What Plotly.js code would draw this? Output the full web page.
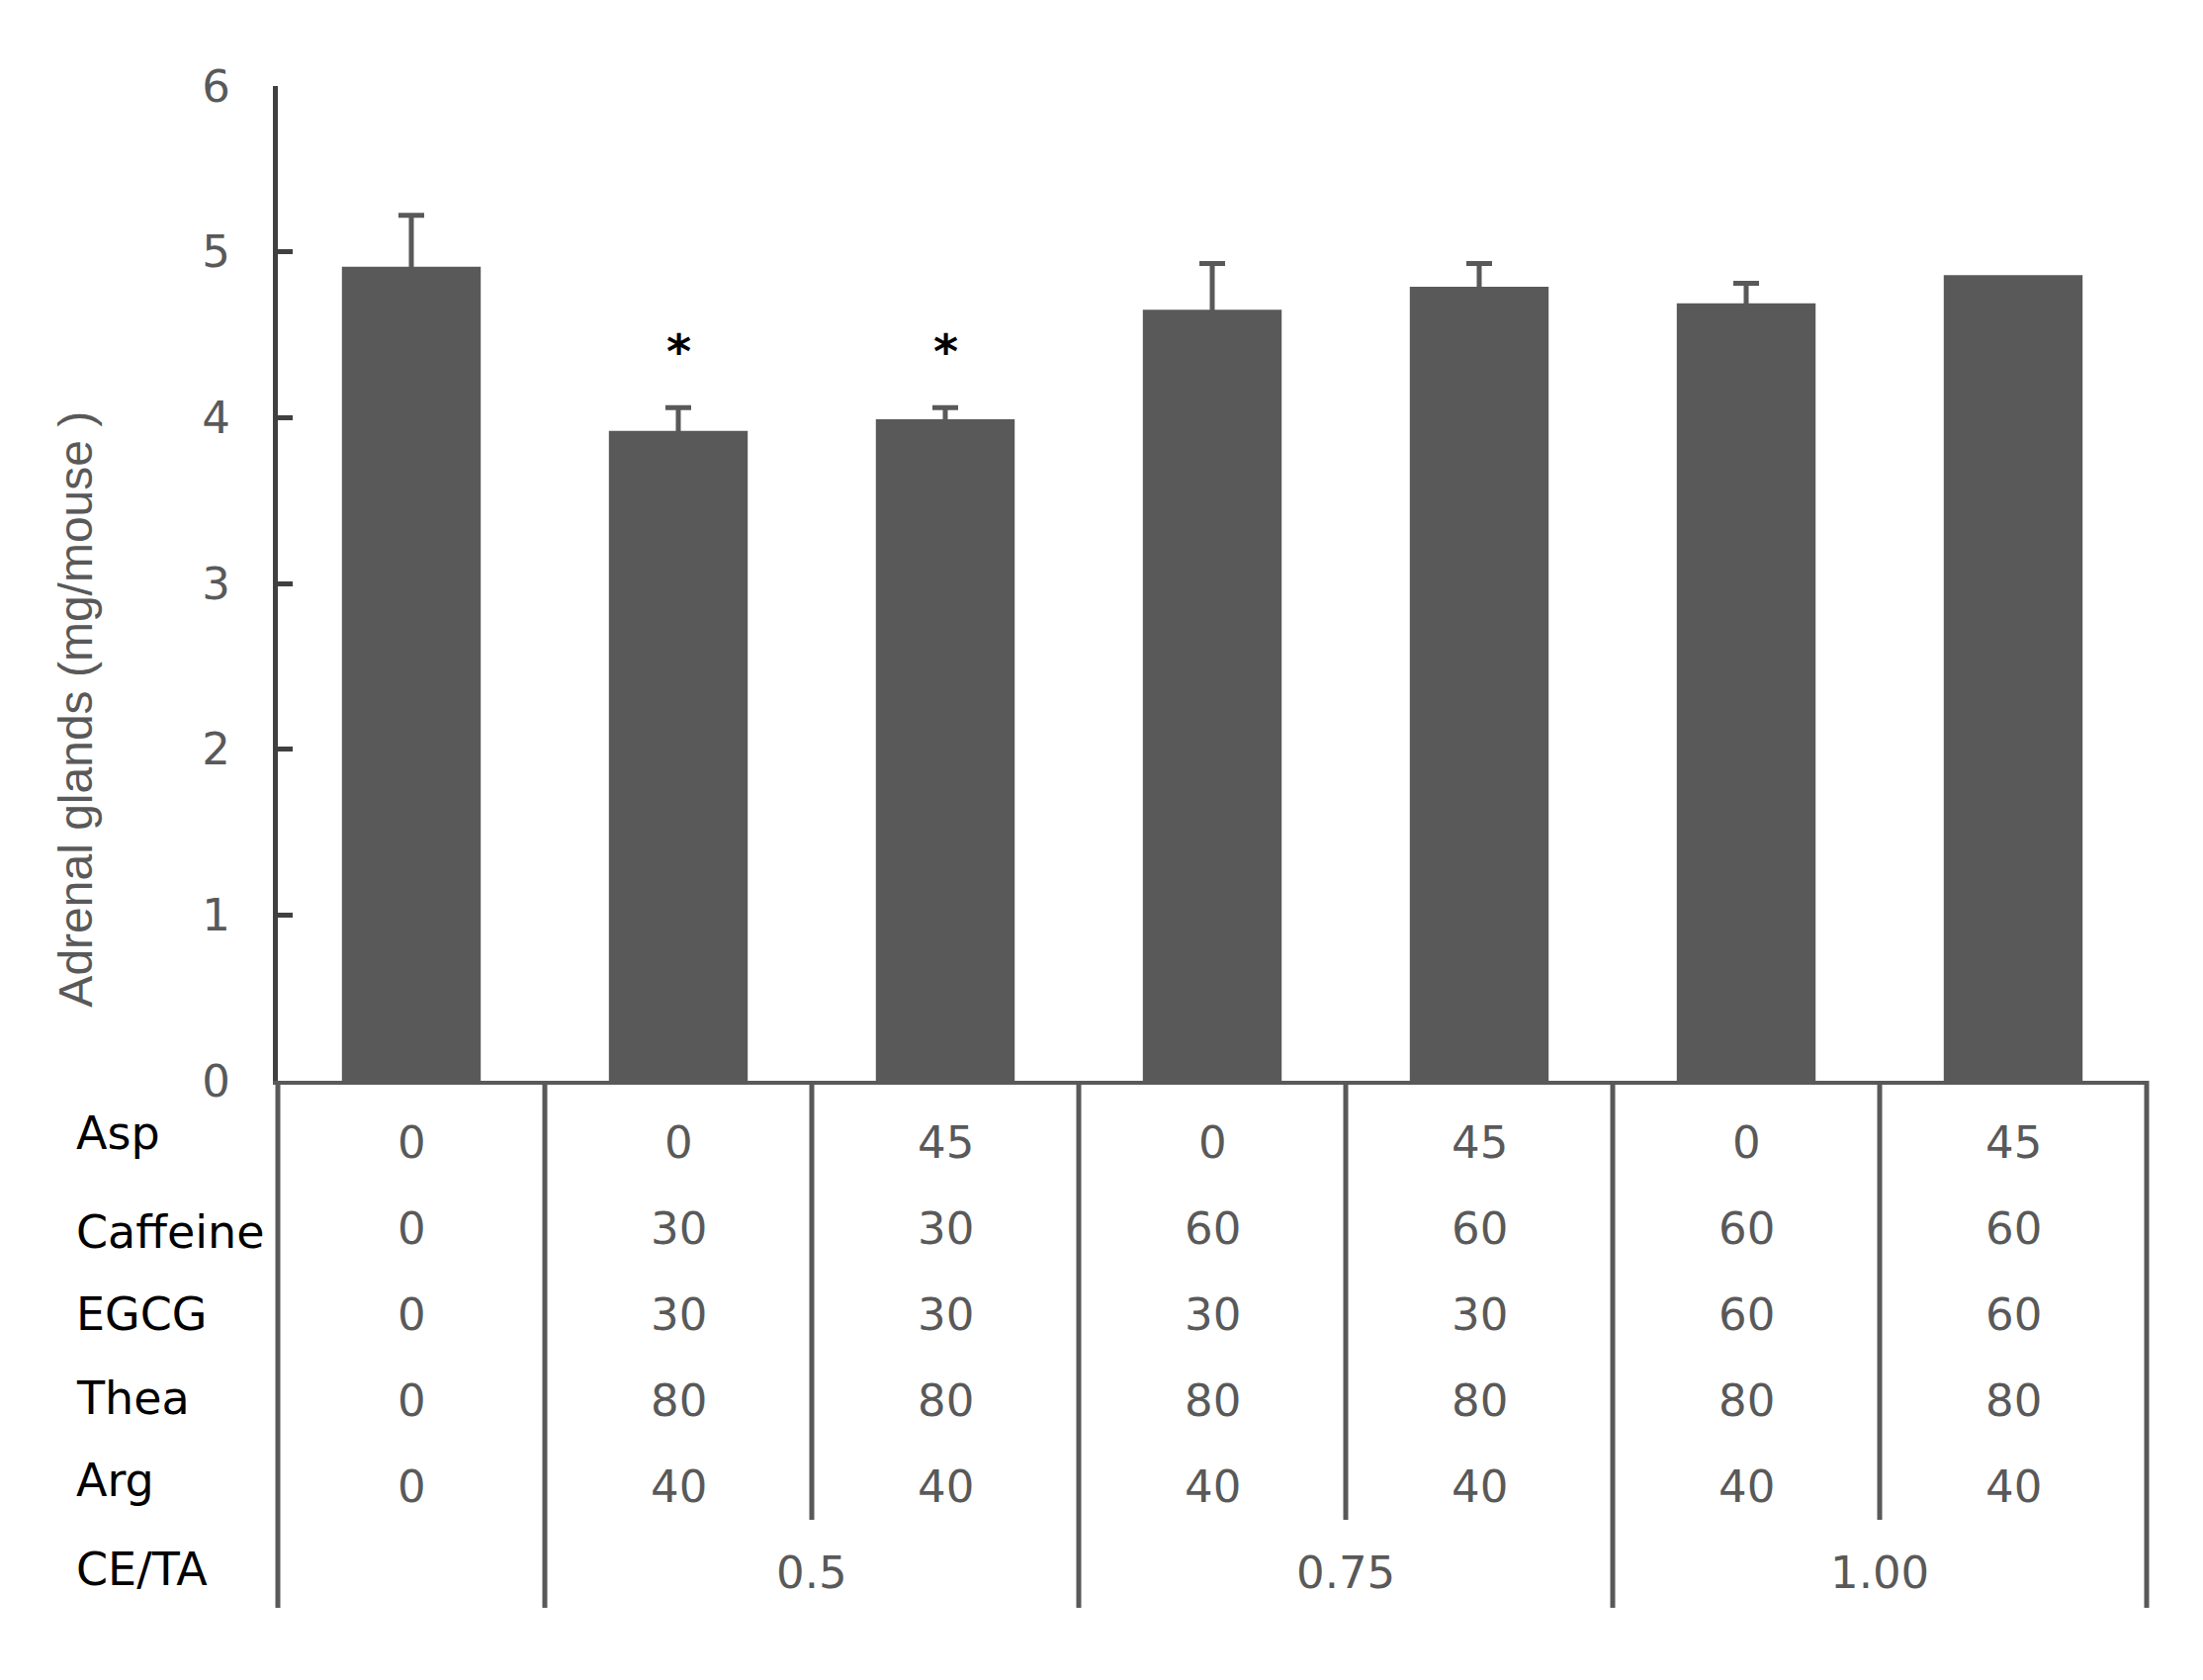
<!DOCTYPE html>
<html>
<head>
<meta charset="utf-8">
<script src="https://cdn.plot.ly/plotly-3.0.1.min.js"></script>
<style>
  html, body { margin: 0; padding: 0; background: #ffffff; }
  #chart { width: 2228px; height: 1699px; }
</style>
</head>
<body>
<div id="chart"></div>
<script>
// Adrenal gland weight per treatment group, with dose table under the bars
const rowLabels = ['Asp', 'Caffeine', 'EGCG', 'Thea', 'Arg', 'CE/TA'];
const asp      = [0, 0, 45, 0, 45, 0, 45];
const caffeine = [0, 30, 30, 60, 60, 60, 60];
const egcg     = [0, 30, 30, 30, 30, 60, 60];
const thea     = [0, 80, 80, 80, 80, 80, 80];
const arg      = [0, 40, 40, 40, 40, 40, 40];
const ceLabels = ['0.5', '0.75', '1.00'];
const ceStart  = [1, 3, 5];   // first group index of each CE/TA block
const ceSpan   = [2, 2, 2];   // groups in each block

const means = [4.91, 3.92, 3.99, 4.65, 4.79, 4.69, 4.86];
const sem   = [0.31, 0.14, 0.07, 0.28, 0.14, 0.12, null];   // last group: no bar drawn
const sig   = ['', '*', '*', '', '', '', ''];

const yTicks = [0, 1, 2, 3, 4, 5, 6];

const BAR = '#595959';
const AXIS = '#404040';
const GREY = '#595959';
const PLOT_H = 1006;               // plot height in px
const nGroups = means.length;
const idx = means.map((_, i) => i);

const trace = {
    type: 'bar',
    x: idx,
    y: means,
    width: 0.52,
    marker: { color: BAR, line: { width: 0 } },
    error_y: {
        type: 'data',
        symmetric: true,
        array: sem.map(v => (v === null ? NaN : v)),
        color: BAR,
        thickness: 5,
        width: 13,
        visible: true
    },
    hoverinfo: 'y'
};

const tableFont = { family: 'DejaVu Sans, sans-serif', size: 45, color: GREY };
const labelFont = { family: 'DejaVu Sans, sans-serif', size: 46, color: '#000000' };

const py = off => -off / PLOT_H;   // px below the x axis -> paper y
const rowOff = i => 62 + 87 * i;
const labelShift = [-9, 4, 0, -2, -6, -3];   // small nudges of the row names

const annotations = [];
const tableRows = [asp, caffeine, egcg, thea, arg];

rowLabels.forEach((lab, r) => {
    annotations.push({
        text: lab, xref: 'paper', yref: 'paper',
        x: -0.109, y: py(rowOff(r) + labelShift[r]), xanchor: 'left', yanchor: 'middle',
        showarrow: false, font: labelFont
    });
});

tableRows.forEach((row, r) => {
    row.forEach((v, i) => {
        annotations.push({
            text: String(v), xref: 'x', yref: 'paper',
            x: i, y: py(rowOff(r)), xanchor: 'center', yanchor: 'middle',
            showarrow: false, font: tableFont
        });
    });
});

ceLabels.forEach((lab, g) => {
    annotations.push({
        text: lab, xref: 'x', yref: 'paper',
        x: ceStart[g] + (ceSpan[g] - 1) / 2, y: py(rowOff(5)),
        xanchor: 'center', yanchor: 'middle',
        showarrow: false, font: tableFont
    });
});

sig.forEach((s, i) => {
    if (!s) return;
    annotations.push({
        text: '<b>' + s + '</b>', xref: 'x', yref: 'y',
        x: i, y: means[i] + (sem[i] || 0) + 0.34,
        xanchor: 'center', yanchor: 'middle',
        showarrow: false,
        font: { family: 'DejaVu Sans, sans-serif', size: 48, color: '#000000' }
    });
});

annotations.push({
    text: 'Adrenal glands (mg/mouse )', xref: 'paper', yref: 'paper',
    x: -0.108, y: 0.374, xanchor: 'center', yanchor: 'middle',
    textangle: -90, showarrow: false,
    font: { family: 'Liberation Sans, Arial, sans-serif', size: 48, color: GREY }
});

// table rules: long lines at block edges, short ones between groups
const shapes = [];
const blockEdges = new Set([0, nGroups]);
ceStart.forEach((s, g) => { blockEdges.add(s); blockEdges.add(s + ceSpan[g]); });
for (let k = 0; k <= nGroups; k++) {
    const long = blockEdges.has(k);
    shapes.push({
        type: 'line', xref: 'paper', yref: 'paper',
        x0: k / nGroups, x1: k / nGroups,
        y0: 0, y1: py(long ? 533 : 444),
        line: { color: GREY, width: 5 }
    });
}

const layout = {
    width: 2228,
    height: 1699,
    paper_bgcolor: '#ffffff',
    plot_bgcolor: '#ffffff',
    margin: { l: 281, r: 57, t: 87, b: 606 },
    showlegend: false,
    font: { family: 'DejaVu Sans, sans-serif', color: GREY },
    xaxis: {
        range: [-0.5, nGroups - 0.5],
        showticklabels: false,
        ticks: '',
        showgrid: false,
        zeroline: false,
        showline: true,
        linecolor: GREY,
        linewidth: 4
    },
    yaxis: {
        range: [0, 6],
        tickvals: yTicks,
        ticks: 'inside',
        ticklen: 15,
        tickwidth: 5,
        tickcolor: AXIS,
        showgrid: false,
        zeroline: false,
        showline: true,
        linecolor: AXIS,
        linewidth: 5,
        ticklabelstandoff: 34,
        tickfont: { family: 'DejaVu Sans, sans-serif', size: 45, color: GREY }
    },
    annotations: annotations,
    shapes: shapes
};

Plotly.newPlot('chart', [trace], layout, { staticPlot: true });
</script>
</body>
</html>
